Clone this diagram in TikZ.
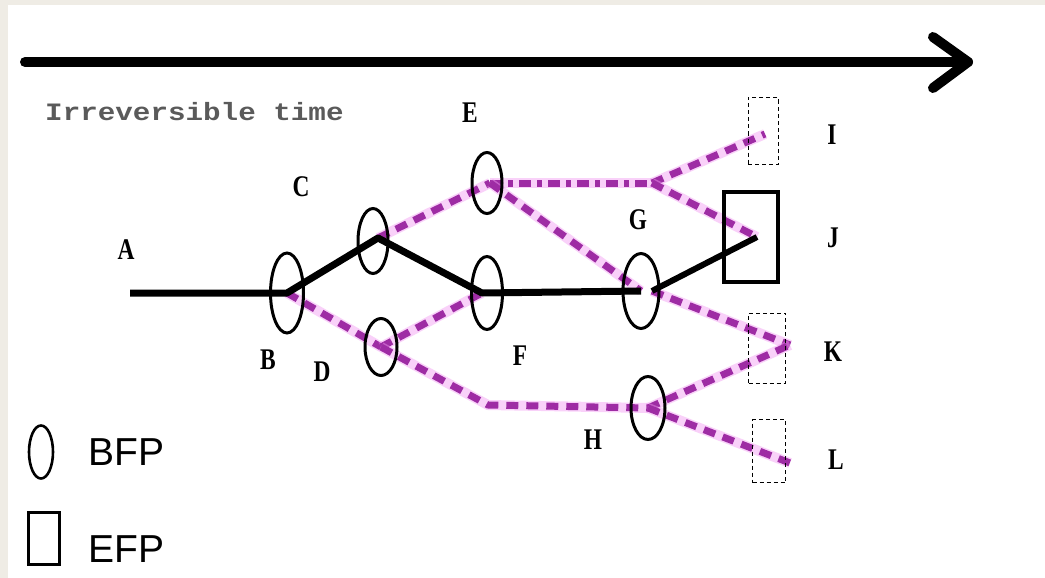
\documentclass[tikz,border=0pt]{standalone}
\usepackage{fontspec}
\setmainfont{Liberation Serif}
\newfontfamily\legfont{Liberation Sans}
\newfontfamily\monofont{Liberation Mono}
\usetikzlibrary{shapes.geometric}
\pgfdeclarelayer{back}
\pgfdeclarelayer{lines}
\pgfsetlayers{back,lines,main}
\definecolor{bgbeige}{HTML}{EFECE5}
\definecolor{magcore}{HTML}{9E2CA4}
\definecolor{maghalo}{HTML}{F39AF3}
\definecolor{graytext}{HTML}{5A5A5A}
\tikzset{
  bfp/.style={draw=black, line width=3pt, ellipse, inner sep=0pt},
  efpsolid/.style={draw=black, line width=4pt, rectangle, inner sep=0pt},
  efpdash/.style={draw=black, line width=1pt, dash pattern=on 4pt off 3pt, rectangle, inner sep=0pt},
  lbl/.style={font=\fontsize{30}{30}\selectfont\bfseries, xscale=0.78, inner sep=0pt},
  blackline/.style={draw=black, line width=7pt, line join=round},
  magline/.style={preaction={draw=maghalo, line width=10pt, solid, opacity=0.45},
                  draw=magcore, line width=7pt, dash pattern=on 12pt off 8pt},
  magdot/.style={preaction={draw=maghalo, line width=10pt, solid, opacity=0.45},
                  draw=magcore, line width=7pt, dash pattern=on 12pt off 6pt on 5pt off 6pt},
  legtext/.style={font=\legfont\fontsize{39}{39}\selectfont, anchor=base west, inner sep=0pt}
}
\begin{document}
\begin{tikzpicture}[x=1pt,y=-1pt]
\useasboundingbox (0,0) rectangle (1045,578);
\begin{pgfonlayer}{back}
\fill[bgbeige] (0,0) rectangle (1045,578);
\fill[white] (8,5) rectangle (1045,578);
\end{pgfonlayer}

% time arrow
\coordinate (t0) at (25,62);
\coordinate (t1) at (968,62);
\coordinate (ta) at (933,37);
\coordinate (tb) at (933,88);
\draw[line width=10pt, line cap=round] (t0) -- (t1);
\draw[line width=10pt, line cap=round, line join=round] (ta) -- (t1) -- (tb);
\node[font=\monofont\fontsize{25}{25}\selectfont\bfseries, text=graytext, anchor=west, xscale=1.17, inner sep=0pt] (irr) at (45,112) {Irreversible time};

% nodes (ellipses = BFP, boxes = EFP)
\coordinate (A) at (130,293);
\node[bfp, minimum width=33pt, minimum height=80pt] (B) at (287,293) {};
\node[bfp, minimum width=30pt, minimum height=65pt] (C) at (373,241) {};
\node[bfp, minimum width=32pt, minimum height=57pt] (D) at (381,347) {};
\node[bfp, minimum width=30pt, minimum height=61pt] (E) at (487,183) {};
\node[bfp, minimum width=31pt, minimum height=73pt] (F) at (487,293) {};
\node[bfp, minimum width=36pt, minimum height=75pt] (G) at (641,291) {};
\node[bfp, minimum width=34pt, minimum height=63pt] (H) at (648,408) {};
\node[efpdash, minimum width=30pt, minimum height=67pt] (I) at (763,131) {};
\node[efpsolid, minimum width=54pt, minimum height=90pt] (J) at (751,237) {};
\node[efpdash, minimum width=37pt, minimum height=70pt] (K) at (767,348) {};
\node[efpdash, minimum width=33pt, minimum height=63pt] (L) at (769,451) {};

% junction points
\coordinate (Cj) at (378,238);
\coordinate (Fj) at (482,293);
\coordinate (Ej) at (490,183);
\coordinate (Gj) at (652,183);
\coordinate (Dj) at (488,405);
\coordinate (Jin) at (757,237);
\coordinate (Gout) at (652,291);
\coordinate (Kin) at (790,345);
\coordinate (Lin) at (790,463);
\coordinate (Iin) at (765,134);

\begin{pgfonlayer}{lines}
% magenta (possible) paths
\draw[magline] (Cj) -- (Ej);
\draw[magline] (B.center) -- (D.center);
\draw[magline] (D.center) -- (Fj);
\draw[magline] (D.center) -- (Dj) -- (H.center);
\draw[magdot] (Ej) -- (Gj);
\draw[magline] (Gj) -- (Iin);
\draw[magline] (Gj) -- (Jin);
\draw[magline] (Ej) -- (G.center);
\draw[magline] (Gout) -- (Kin);
\draw[magline] (H.center) -- (Kin);
\draw[magline] (H.center) -- (Lin);

% black (actual) path
\draw[blackline] (A) -- (B.center) -- (Cj) -- (Fj) -- (G.center);
\draw[blackline, line width=6pt] (Gout) -- (Jin);
\end{pgfonlayer}

% labels
\node[lbl] (lA) at (126,250) {A};
\node[lbl] (lB) at (268,360) {B};
\node[lbl] (lC) at (301,187) {C};
\node[lbl] (lD) at (322,372) {D};
\node[lbl] (lE) at (470,113) {E};
\node[lbl] (lF) at (520,356) {F};
\node[lbl] (lG) at (638,220) {G};
\node[lbl] (lH) at (593,440) {H};
\node[lbl] (lI) at (832,135) {I};
\node[lbl] (lJ) at (833,238) {J};
\node[lbl] (lK) at (833,352) {K};
\node[lbl] (lL) at (836,460) {L};

% legend
\node[bfp, line width=2.6pt, minimum width=24pt, minimum height=53pt] (legE) at (41,452) {};
\node[efpsolid, line width=3pt, minimum width=31pt, minimum height=52pt] (legR) at (44,538) {};
\node[legtext] (tBFP) at (88,465) {BFP};
\node[legtext] (tEFP) at (88,562) {EFP};
\end{tikzpicture}
\end{document}
